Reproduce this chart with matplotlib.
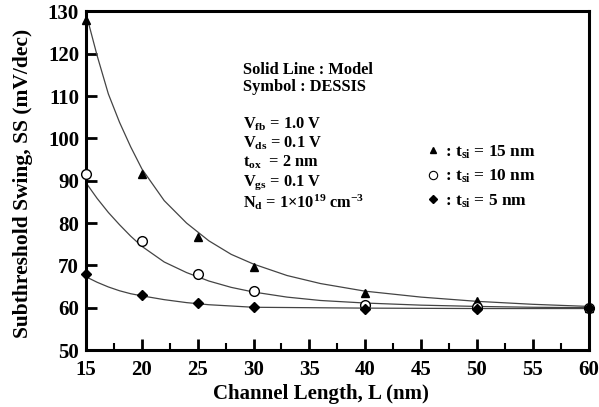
import numpy as np
import matplotlib
matplotlib.use("Agg")
import matplotlib.pyplot as plt
from matplotlib.lines import Line2D

plt.rcParams["font.family"] = "Liberation Serif"
plt.rcParams["font.weight"] = "bold"
plt.rcParams["mathtext.fontset"] = "custom"
plt.rcParams["mathtext.rm"] = "Liberation Serif:bold"
plt.rcParams["mathtext.it"] = "Liberation Serif:bold"
plt.rcParams["mathtext.bf"] = "Liberation Serif:bold"

# DESSIS simulation points
L_sim = [15, 20, 25, 30, 40, 50, 60]
ss_sim_15 = [128.0, 91.5, 76.7, 69.5, 63.5, 61.5, 60.0]
ss_sim_10 = [91.5, 75.7, 68.0, 64.0, 60.7, 60.2, 60.0]
ss_sim_5 = [68.0, 63.0, 61.0, 60.2, 59.7, 59.6, 60.0]

# model curves
L_mod_15 = [15, 16, 17, 18, 19, 20, 22, 24, 26, 28, 30, 33, 36, 40, 45, 50, 55, 60]
ss_mod_15 = [129.5, 119.5, 110.5, 103.8, 98.0, 92.8, 85.3, 80.0, 75.8, 72.6, 70.3,
             67.6, 65.7, 63.9, 62.5, 61.5, 60.8, 60.3]
L_mod_10 = [15, 16, 17, 18, 19, 20, 22, 24, 26, 28, 30, 33, 36, 40, 45, 50, 55, 60]
ss_mod_10 = [89.5, 85.8, 82.5, 79.6, 76.9, 74.5, 70.8, 68.3, 66.3, 64.8, 63.7,
             62.5, 61.7, 61.1, 60.6, 60.3, 60.1, 60.0]
L_mod_5 = [15, 16, 17, 18, 19, 20, 22, 24, 26, 28, 30, 35, 40, 50, 60]
ss_mod_5 = [67.3, 66.0, 64.9, 64.0, 63.3, 62.8, 61.9, 61.2, 60.7, 60.4, 60.1,
            60.0, 59.9, 59.8, 59.8]

fig = plt.figure(figsize=(5.99, 4.07), dpi=100)
ax = fig.add_axes([0.1436, 0.14, 0.839, 0.832])

line_kw = dict(color="#444444", lw=0.9)
ax.plot(L_mod_15, ss_mod_15, **line_kw)
ax.plot(L_mod_10, ss_mod_10, **line_kw)
ax.plot(L_mod_5, ss_mod_5, **line_kw)

ax.plot(L_sim, ss_sim_15, ls="none", marker="^", ms=6, color="black", clip_on=False, zorder=5)
ax.plot(L_sim, ss_sim_10, ls="none", marker="o", ms=7, mfc="white", mec="black", mew=1.0,
        clip_on=False, zorder=5)
ax.plot(L_sim, ss_sim_5, ls="none", marker="D", ms=5.5, color="black", clip_on=False, zorder=6)

ax.set_xlim(15, 60)
ax.set_ylim(50, 130)
ax.set_xticks(np.arange(15, 61, 5))
ax.set_xticks(np.arange(15, 61, 2.5), minor=True)
ax.set_yticks(np.arange(50, 131, 10))
ax.tick_params(axis="both", which="major", direction="in", length=8, width=2,
               labelsize=15, pad=5, top=False, right=False)
ax.tick_params(axis="x", which="major", pad=7)
ax.tick_params(axis="x", which="minor", direction="in", length=5, width=1.5, top=False)
for sp in ax.spines.values():
    sp.set_linewidth(2.2)

ax.set_xlabel("Channel Length, L (nm)", fontsize=15, fontweight="bold")
ax.xaxis.set_label_coords(0.467, -0.1)
ax.set_ylabel("Subthreshold Swing, SS (mV/dec)", fontsize=15.5, fontweight="bold")
ax.yaxis.set_label_coords(-0.106, 0.492)

# annotation block
tx = 0.312
ax.text(tx, 0.827, "Solid Line : Model", transform=ax.transAxes,
        fontsize=11.8, fontweight="bold", va="center")
ax.text(tx, 0.777, "Symbol : DESSIS", transform=ax.transAxes,
        fontsize=11.8, fontweight="bold", va="center")
params = [r"V$_{fb}$ = 1.0 V", r"V$_{ds}$ = 0.1 V", r"t$_{ox}$  = 2 nm",
          r"V$_{gs}$ = 0.1 V", r"N$_{d}$ = 1$\times$10$^{19}$ cm$^{-3}$"]
for i, s in enumerate(params):
    ax.text(tx, 0.668 - i * 0.0575, s, transform=ax.transAxes, fontsize=11.8,
            fontweight="bold", va="center")

handles = [Line2D([], [], ls="none", marker="^", ms=5, color="black"),
           Line2D([], [], ls="none", marker="o", ms=6, mfc="white", mec="black", mew=0.8),
           Line2D([], [], ls="none", marker="D", ms=4.5, color="black")]
labels = [r": t$_{si}$ = 15 nm", r": t$_{si}$ = 10 nm", r": t$_{si}$ = 5 nm"]
ax.legend(handles, labels, loc="upper left", bbox_to_anchor=(0.68, 0.61), frameon=False,
          fontsize=12.5, handlelength=0.6, handletextpad=0.4, labelspacing=0.4,
          borderaxespad=0, borderpad=0)

fig.savefig("out.png", dpi=100)
